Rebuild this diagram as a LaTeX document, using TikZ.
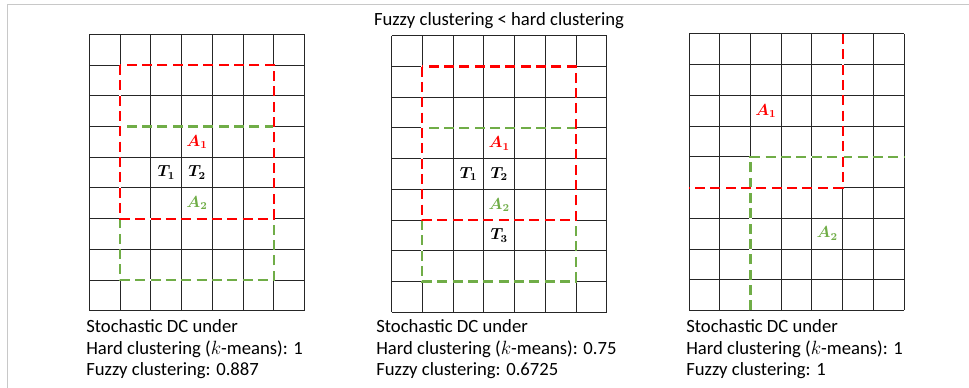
\documentclass[tikz,border=0pt]{standalone}
\usepackage{fontspec}
\setmainfont{Carlito}
\usepackage{xcolor}
\definecolor{fuzzygreen}{HTML}{70AD47}
\definecolor{framegray}{HTML}{C8C8C8}

\begin{document}
\begin{tikzpicture}[x=0.75pt, y=-0.75pt,
    gridline/.style={black!85, line width=0.75pt},
    redpart/.style={red, line width=1.6pt, dash pattern=on 7.5pt off 4pt,
      preaction={draw=white, solid, line width=1.6pt}},
    greenpart/.style={fuzzygreen, line width=1.6pt, dash pattern=on 7.5pt off 4pt,
      preaction={draw=white, solid, line width=1.6pt}},
    caption/.style={anchor=base west, inner sep=0pt, font=\fontsize{14pt}{17pt}\selectfont},
    tag/.style={inner sep=0pt, font=\fontsize{12pt}{14pt}\selectfont\boldmath}]
  \useasboundingbox (0,0) rectangle (969,388);
  % Frame
  \draw[framegray, line width=0.9pt] (7.5,388) -- (7.5,4.5) -- (969,4.5);
  \node[inner sep=0pt, anchor=base, font=\fontsize{14pt}{17pt}\selectfont] (title) at (499,25.5)
    {Fuzzy clustering < hard clustering};

  % Left panel
  \begin{scope}[shift={(89.5,34.3)}, x=23.04pt, y=-23.04pt]
    \foreach \i in {0,...,7} \draw[gridline] (\i,0) -- (\i,9);
    \foreach \j in {0,...,9} \draw[gridline] (0,\j) -- (7,\j);
    \draw[greenpart] (1,3) rectangle (6,8);
    \draw[redpart] (1,1) rectangle (6,6);
    \node[tag, red] (A1a) at (3.5,3.5) {$A_1$};
    \node[tag] (T1a) at (2.5,4.5) {$T_1$};
    \node[tag] (T2a) at (3.5,4.5) {$T_2$};
    \node[tag, fuzzygreen] (A2a) at (3.5,5.5) {$A_2$};
  \end{scope}

  % Middle panel
  \begin{scope}[shift={(391.7,35.8)}, x=23.04pt, y=-23.04pt]
    \foreach \i in {0,...,7} \draw[gridline] (\i,0) -- (\i,9);
    \foreach \j in {0,...,9} \draw[gridline] (0,\j) -- (7,\j);
    \draw[greenpart] (1,3) rectangle (6,8);
    \draw[redpart] (1,1) rectangle (6,6);
    \node[tag, red] (A1b) at (3.5,3.5) {$A_1$};
    \node[tag] (T1b) at (2.5,4.5) {$T_1$};
    \node[tag] (T2b) at (3.5,4.5) {$T_2$};
    \node[tag, fuzzygreen] (A2b) at (3.5,5.5) {$A_2$};
    \node[tag] (T3b) at (3.5,6.5) {$T_3$};
  \end{scope}

  % Right panel
  \begin{scope}[shift={(689,34)}, x=23.04pt, y=-23.04pt]
    \foreach \i in {0,...,7} \draw[gridline] (\i,0) -- (\i,9);
    \foreach \j in {0,...,9} \draw[gridline] (0,\j) -- (7,\j);
    \draw[greenpart] (2,9) -- (2,4) -- (7,4);
    \draw[redpart] (5,0) -- (5,5) -- (0,5);
    \node[tag, red] (A1c) at (2.5,2.5) {$A_1$};
    \node[tag, fuzzygreen] (A2c) at (4.5,6.5) {$A_2$};
  \end{scope}

  % Captions
  \foreach \x/\p/\h/\f in {86/a/1/0.887, 376/b/0.75/0.6725, 686/c/1/1} {
    \node[caption] (dc\p) at (\x,332.5) {Stochastic DC under};
    \node[caption] (hard\p) at (\x,354) {Hard clustering ($k$-means): \h};
    \node[caption] (fuzzy\p) at (\x,375.5) {Fuzzy clustering: \f};
  }
\end{tikzpicture}
\end{document}
